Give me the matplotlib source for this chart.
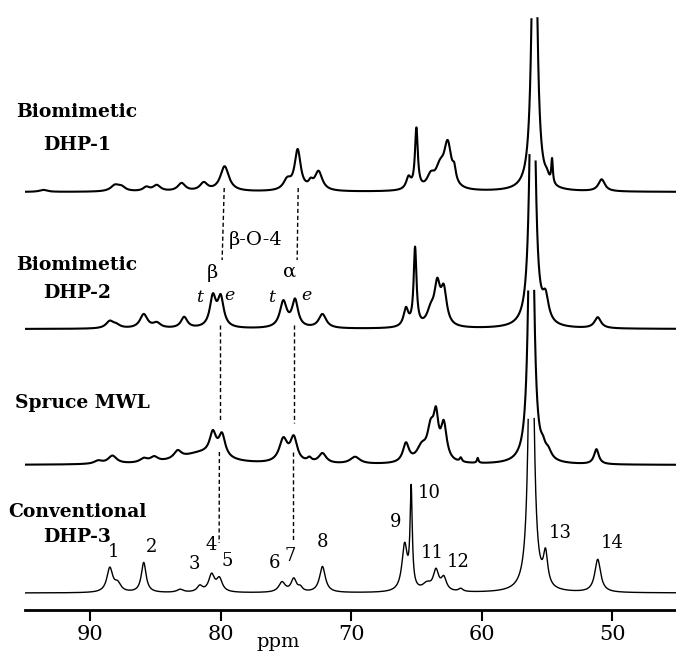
import numpy as np
import matplotlib
matplotlib.use("Agg")
import matplotlib.pyplot as plt

# peak tables: position (ppm), height, half width (ppm)
dhp1_pos = [93.6, 88.1, 87.6, 85.7, 84.9, 83.0, 81.3, 79.7, 74.9, 74.1, 73.1, 72.5,
            65.6, 65.0, 63.9, 63.2, 62.6, 62.1, 55.95, 55.0, 54.6, 50.8]
dhp1_h = [2, 6, 4, 4, 6, 8, 8, 25, 10, 40, 6, 19,
          12, 60, 12, 18, 44, 12, 400, 6, 24, 12]
dhp1_w = [0.35, 0.4, 0.35, 0.3, 0.35, 0.35, 0.35, 0.4, 0.35, 0.28, 0.2, 0.35,
          0.22, 0.13, 0.35, 0.4, 0.35, 0.15, 0.2, 0.2, 0.07, 0.3]

dhp2_pos = [88.5, 88.0, 85.9, 84.9, 82.8, 80.6, 80.0, 75.2, 74.3, 72.2,
            65.8, 65.1, 63.9, 63.4, 62.9, 56.1, 55.1, 51.1]
dhp2_h = [7, 3, 14, 5, 11, 30, 29, 26, 27, 14,
          18, 78, 14, 38, 34, 400, 24, 11]
dhp2_w = [0.35, 0.35, 0.35, 0.35, 0.3, 0.28, 0.28, 0.32, 0.28, 0.35,
          0.22, 0.13, 0.35, 0.27, 0.27, 0.2, 0.28, 0.3]

mwl_pos = [89.4, 88.3, 85.9, 85.1, 83.3, 81.5, 80.6, 79.9, 75.2, 74.4, 73.2, 72.2,
           69.7, 65.8, 64.6, 63.9, 63.5, 62.9, 61.6, 60.3, 56.2, 55.3, 54.9, 51.2]
mwl_h = [3, 8, 4, 5, 8, 11, 22, 22, 23, 24, 4, 10,
         7, 19, 14, 30, 38, 36, 4, 5, 400, 8, 8, 15]
mwl_w = [0.35, 0.4, 0.35, 0.35, 0.35, 2.0, 0.3, 0.3, 0.38, 0.32, 0.2, 0.35,
         0.45, 0.28, 0.45, 0.32, 0.22, 0.27, 0.1, 0.07, 0.2, 0.2, 0.3, 0.22]

dhp3_pos = [88.5, 87.9, 85.9, 83.1, 81.6, 80.7, 80.1, 75.3, 74.4, 73.9, 72.2,
            65.9, 65.4, 64.2, 63.5, 62.9, 61.6, 56.2, 55.1, 51.1]
dhp3_h = [24, 8, 30, 3, 6, 17, 13, 10, 13, 4, 26,
          46, 98, 7, 20, 13, 3, 400, 32, 33]
dhp3_w = [0.27, 0.3, 0.22, 0.3, 0.25, 0.27, 0.27, 0.3, 0.25, 0.2, 0.27,
          0.25, 0.1, 0.4, 0.25, 0.25, 0.2, 0.2, 0.2, 0.27]

spectra = [
    ("DHP-1", dhp1_pos, dhp1_h, dhp1_w, 418),
    ("DHP-2", dhp2_pos, dhp2_h, dhp2_w, 281),
    ("MWL", mwl_pos, mwl_h, mwl_w, 145),
    ("DHP-3", dhp3_pos, dhp3_h, dhp3_w, 17),
]

peak_nums = ["1", "2", "3", "4", "5", "6", "7", "8", "9", "10", "11", "12", "13", "14"]
num_xy = [(88.2, 58), (85.3, 63), (82.0, 46), (80.7, 65), (79.5, 49), (75.9, 47),
          (74.7, 54), (72.2, 68), (66.6, 88), (64.0, 117), (63.8, 57), (61.8, 48),
          (54.0, 77), (50.0, 67)]

tick_vals = [90, 80, 70, 60, 50]


def lorentz_sum(x, pos, h, w):
    y = np.zeros_like(x)
    for p, a, g in zip(pos, h, w):
        y += a / (1 + ((x - p) / g) ** 2)
    return y


fig = plt.figure(figsize=(6.76, 6.55), dpi=100)
ax = fig.add_axes([25 / 676, 45 / 655, 651 / 676, 610 / 655])

ppm = np.linspace(95.0, 45.1, 5000)
clip = 175
for name, pos, h, w, off in spectra:
    y = lorentz_sum(ppm, pos, h, w)
    y[y > clip] = np.nan
    lw = 1.0 if name == "DHP-3" else 1.5
    ax.plot(ppm, y + off, color="black", lw=lw)

# dashed guides for beta-O-4 alpha / beta carbons
dash = dict(color="black", lw=1.0, ls=(0, (3, 2)))
ax.plot([79.73, 79.89], [422, 350], **dash)
ax.plot([80.04, 80.04], [285, 190], **dash)
ax.plot([80.1, 80.12], [158, 67], **dash)
ax.plot([74.06, 74.14], [422, 350], **dash)
ax.plot([74.37, 74.37], [285, 187], **dash)
ax.plot([74.45, 74.45], [158, 68], **dash)

lab = dict(ha="center", va="center", fontsize=13.5, fontweight="bold", family="DejaVu Serif")
ax.text(91.0, 498, "Biomimetic", **lab)
ax.text(91.0, 465, "DHP-1", **lab)
ax.text(91.0, 345, "Biomimetic", **lab)
ax.text(91.0, 317, "DHP-2", **lab)
ax.text(90.6, 207, "Spruce MWL", **lab)
ax.text(91.0, 98, "Conventional", **lab)
ax.text(91.0, 73, "DHP-3", **lab)

ser = dict(ha="center", va="center", fontsize=14, family="DejaVu Serif")
ax.text(77.3, 370, "β-O-4", **ser)
ax.text(80.6, 337, "β", **ser)
ax.text(74.7, 338, "α", **ser)
it = dict(ha="center", va="center", fontsize=12.5, family="DejaVu Serif", style="italic")
ax.text(81.6, 313, "t", **it)
ax.text(79.3, 315, "e", **it)
ax.text(76.1, 313, "t", **it)
ax.text(73.4, 315, "e", **it)

for s, (px, py) in zip(peak_nums, num_xy):
    ax.text(px, py, s, ha="center", va="center", fontsize=13, family="DejaVu Serif")

ax.text(75.6, -32, "ppm", ha="center", va="center", fontsize=14, family="DejaVu Serif")

ax.set_xlim(95.0, 45.1)
ax.set_ylim(0, 610)
ax.set_xticks(tick_vals)
ax.set_xticklabels([str(t) for t in tick_vals], family="DejaVu Serif", fontsize=15)
ax.tick_params(axis="x", direction="out", length=8, width=1.5, pad=3)
ax.set_yticks([])
for s in ["left", "right", "top"]:
    ax.spines[s].set_visible(False)
ax.spines["bottom"].set_linewidth(2)
ax.patch.set_alpha(0)

fig.savefig("out.png", dpi=100)
